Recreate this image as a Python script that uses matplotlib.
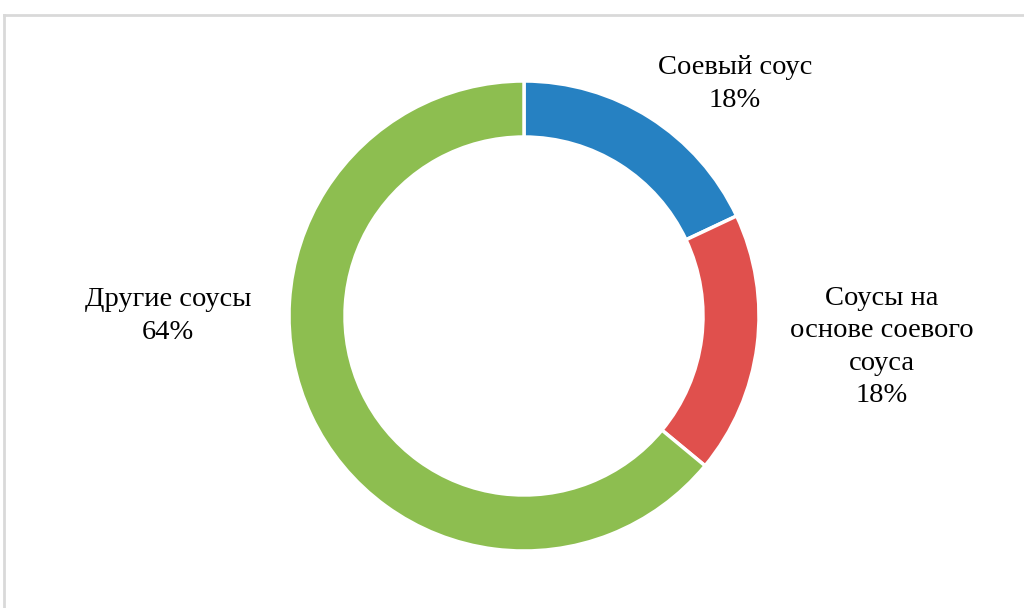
import matplotlib.pyplot as plt
from matplotlib.lines import Line2D

names = ["Соевый соус", "Соусы на\nоснове соевого\nсоуса", "Другие соусы"]
shares = [18, 18, 64]
colors = ["#2681C2", "#E0504D", "#8DBE50"]
# label anchor points, pixels from top-left
label_pos = [(735, 84), (882, 347), (168, 316)]

W, H = 1024, 608
fig = plt.figure(figsize=(W / 100, H / 100), dpi=100)
ax = fig.add_axes([0, 0, 1, 1])

ax.pie(shares, colors=colors, startangle=90, counterclock=False,
       center=(524, H - 316), radius=235, frame=True,
       wedgeprops=dict(width=56, edgecolor="white", linewidth=2.5))
ax.set_xlim(0, W)
ax.set_ylim(0, H)
ax.set_aspect("equal")
ax.axis("off")

for name, v, (x, y) in zip(names, shares, label_pos):
    ax.text(x, H - y, f"{name}\n{v}%", ha="center", va="center",
            family="Liberation Serif", fontsize=20.5, linespacing=1.37)

# thin frame around the chart area
fig.add_artist(Line2D([4 / W, 1], [1 - 15 / H, 1 - 15 / H], color="#D9D9D9", lw=2))
fig.add_artist(Line2D([4 / W, 4 / W], [0, 1 - 15 / H], color="#D9D9D9", lw=2))

fig.savefig("out.png", dpi=100)
